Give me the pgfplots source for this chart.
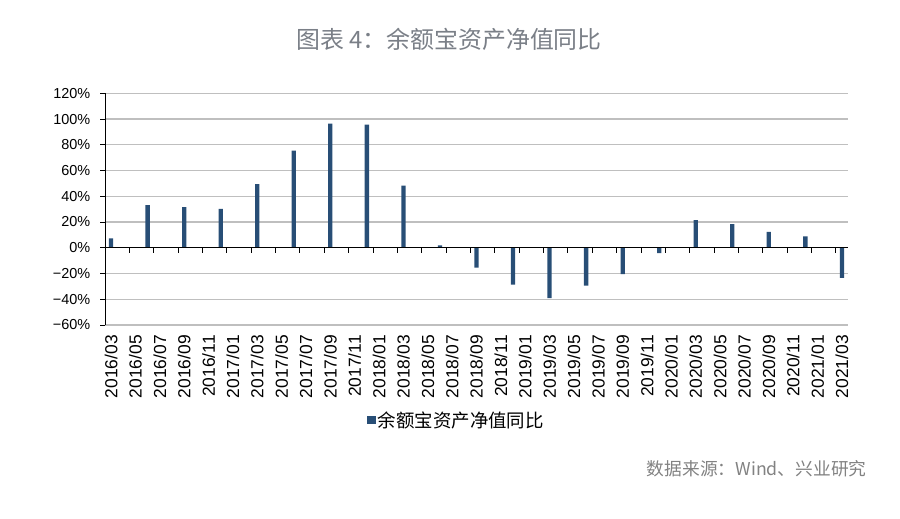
\documentclass[border=0pt]{standalone}
\usepackage{fontspec}
\setmainfont{Liberation Sans}
\newfontfamily\cjk{Noto Sans CJK SC}
\usepackage{pgfplots}
\pgfplotsset{compat=1.18}
\definecolor{barblue}{RGB}{40,78,118}
\definecolor{gridgray}{RGB}{191,191,191}
\definecolor{titlegray}{RGB}{122,127,135}
\definecolor{srcgray}{RGB}{130,130,130}

\begin{document}
\begin{tikzpicture}[x=1bp,y=1bp]
\useasboundingbox (0,0) rectangle (900,519);
\node[font=\cjk\fontsize{24}{27}\selectfont, text=titlegray] at (449,480) {图表 4：余额宝资产净值同比};
\node[font=\cjk\fontsize{17.8}{20}\selectfont, text=srcgray, anchor=east] at (870,50) {数据来源：Wind、兴业研究};

\begin{axis}[
  at={(105bp,194bp)}, anchor=south west,
  scale only axis, width=743bp, height=231.7bp,
  xmin=-0.5, xmax=60.5, ymin=-60, ymax=120,
  axis y line=left, axis x line*=bottom,
  x axis line style={draw=none},
  y axis line style={-, black, line width=0.8bp},
  ybar, bar width=4.3bp,
  ytick={-60,-40,...,120},
  yticklabels={−60\%,−40\%,−20\%,0\%,20\%,40\%,60\%,80\%,100\%,120\%},
  ymajorgrids, grid style={gridgray, line width=1.2bp},
  tick align=outside, major tick length=5bp,
  ytick style={black, line width=0.8bp},
  xtick style={draw=none},
  xtick={0,2,...,60},
  xticklabels={2016/03,2016/05,2016/07,2016/09,2016/11,2017/01,2017/03,2017/05,
    2017/07,2017/09,2017/11,2018/01,2018/03,2018/05,2018/07,2018/09,2018/11,
    2019/01,2019/03,2019/05,2019/07,2019/09,2019/11,2020/01,2020/03,2020/05,
    2020/07,2020/09,2020/11,2021/01,2021/03},
  yticklabel style={font=\fontsize{14.5}{16}\selectfont, inner sep=0pt, xshift=-9.5bp},
  xticklabel style={font=\fontsize{17.5}{19}\selectfont, rotate=90, anchor=east, inner sep=0pt, xshift=-5bp},
  legend style={at={(0.353,-0.41)}, anchor=west, draw=none, fill=none,
    font=\cjk\fontsize{18.5}{21}\selectfont, inner sep=0pt},
  legend image code/.code={\fill[barblue] (0bp,-4.2bp) rectangle (8.5bp,4.2bp);},
]
\addplot[fill=barblue, draw=none] coordinates {
  (0,7.3) (3,33.2) (6,31.6) (9,30.3) (12,49.5) (15,75.4) (18,96.4)
  (21,95.6) (24,48.2) (27,1.8) (30,-15.5) (33,-28.7) (36,-39.1)
  (39,-29.5) (42,-20.5) (45,-4.1) (48,21.5) (51,18.4) (54,12.4)
  (57,8.8) (60,-23.3)
};
\addlegendentry{余额宝资产净值同比}
\end{axis}

% zero line with its tick marks between categories
\begin{axis}[
  at={(105bp,194bp)}, anchor=south west,
  scale only axis, width=743bp, height=231.7bp,
  xmin=-0.5, xmax=60.5, ymin=-60, ymax=120,
  axis x line=middle, axis y line=none,
  axis line style={-, black, line width=0.8bp},
  xtick={1.5,3.5,...,59.5}, xticklabels={}, ytick=\empty,
  tick align=outside, major tick length=5bp,
  xtick style={black, line width=0.8bp},
]
\addplot[draw=none] coordinates {(0,0)};
\end{axis}
\end{tikzpicture}
\end{document}
